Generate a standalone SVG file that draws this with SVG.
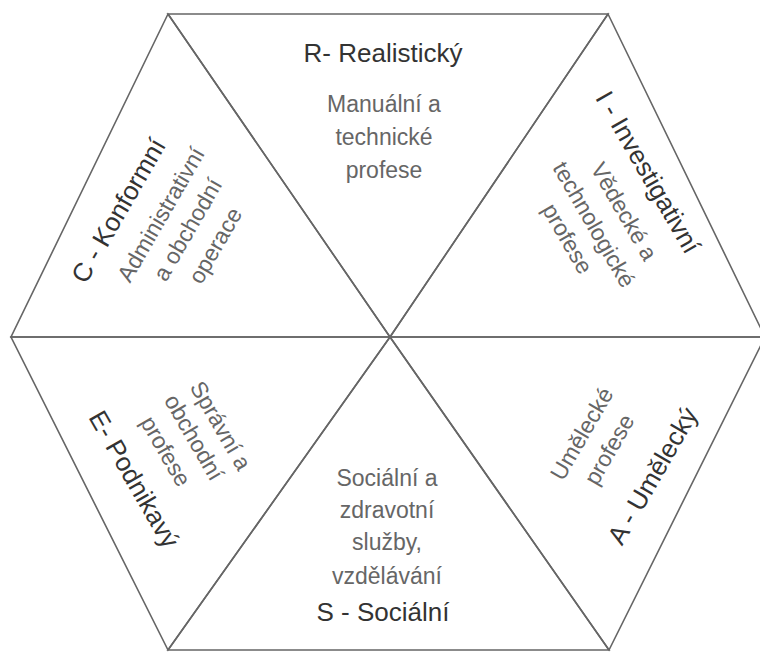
<svg xmlns="http://www.w3.org/2000/svg" width="760" height="653" viewBox="0 0 760 653">
  <style>
    .tri { fill: none; stroke: #666; stroke-width: 1.6; stroke-linejoin: miter; }
    text { font-family: "Liberation Sans", Arial, sans-serif; text-anchor: middle; }
    .title { font-size: 26px; fill: #333; }
    .body { font-size: 23px; fill: #666; }
  </style>
  <rect width="760" height="653" fill="#fff"/>

  <!-- R: top triangle -->
  <g id="node-R">
    <polygon class="tri" points="168,14 608,14 390,337"/>
    <text class="title" x="383" y="62">R- Realistický</text>
    <text class="body" x="384" y="112">Manuální a</text>
    <text class="body" x="384" y="145">technické</text>
    <text class="body" x="384" y="178">profese</text>
  </g>

  <!-- C: upper-left triangle -->
  <g id="node-C">
    <polygon class="tri" points="168,14 11,337 390,337"/>
    <text class="title" transform="translate(117.5,210) rotate(-60)" y="10">C - Konformní</text>
    <text class="body" transform="translate(160,214) rotate(-60)" y="9">Administrativní</text>
    <text class="body" transform="translate(186.7,229) rotate(-60)" y="9">a obchodní</text>
    <text class="body" transform="translate(216,246) rotate(-60)" y="7">operace</text>
  </g>

  <!-- I: upper-right triangle -->
  <g id="node-I">
    <polygon class="tri" points="608,14 765,337 390,337"/>
    <text class="title" transform="translate(649,171.7) rotate(60)" y="10">I - Investigativní</text>
    <text class="body" transform="translate(625,210.8) rotate(60)" y="9">Vědecké a</text>
    <text class="body" transform="translate(595,224) rotate(60)" y="9">technologické</text>
    <text class="body" transform="translate(566.7,239) rotate(60)" y="7">profese</text>
  </g>

  <!-- E: lower-left triangle -->
  <g id="node-E">
    <polygon class="tri" points="11,337 390,337 168,650"/>
    <text class="body" transform="translate(221.7,425) rotate(60)" y="9">Správní a</text>
    <text class="body" transform="translate(195,436.7) rotate(60)" y="9">obchodní</text>
    <text class="body" transform="translate(165,451.7) rotate(60)" y="7">profese</text>
    <text class="title" transform="translate(134.2,479.2) rotate(60)" y="9">E- Podnikavý</text>
  </g>

  <!-- S: bottom triangle -->
  <g id="node-S">
    <polygon class="tri" points="390,337 168,650 609,650"/>
    <text class="body" x="387" y="486">Sociální a</text>
    <text class="body" x="387" y="518">zdravotní</text>
    <text class="body" x="387" y="550">služby,</text>
    <text class="body" x="387" y="584">vzdělávání</text>
    <text class="title" x="383" y="621">S - Sociální</text>
  </g>

  <!-- A: lower-right triangle -->
  <g id="node-A">
    <polygon class="tri" points="390,337 765,337 609,650"/>
    <text class="body" transform="translate(580.8,433.3) rotate(-60)" y="9">Umělecké</text>
    <text class="body" transform="translate(610,450) rotate(-60)" y="7">profese</text>
    <text class="title" transform="translate(652.5,475.8) rotate(-60)" y="9">A - Umělecký</text>
  </g>

  <g id="connectors"/>
</svg>
